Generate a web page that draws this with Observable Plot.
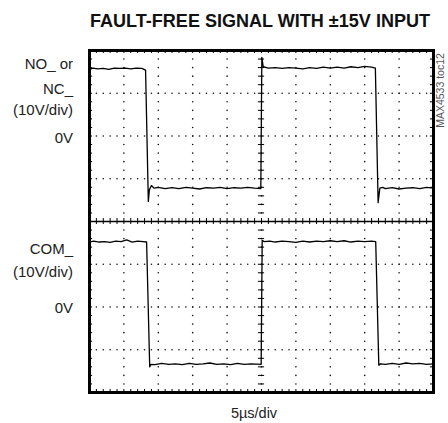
<!DOCTYPE html>
<html><head><meta charset="utf-8">
<script src="https://cdn.jsdelivr.net/npm/d3@7"></script>
<script src="https://cdn.jsdelivr.net/npm/@observablehq/plot@0.6"></script>
<style>
body{margin:0;background:#fff}
#chart{width:448px;height:423px}
</style>
</head><body><div id="chart"></div>
<script>
// Oscilloscope settings: 5 µs/div (10 div), 10 V/div (8 div)
const timeDomain = [0, 50];      // µs
const voltDomain = [-40, 40];    // V on screen
const title = "FAULT-FREE SIGNAL WITH \u00B115V INPUT";
const xLabel = "5\u00B5s/div";
const tocLabel = "MAX4533 toc12";

// channel zero levels (screen volts)
const topZero = 20;
const comZero = -20;

// channel labels: [text, screen volts]
const topLabels = [["NO_ or", 36.9], ["NC_", 30.9], ["(10V/div)", 26.0], ["0V", 19.6]];
const comLabels = [["COM_", -6.5], ["(10V/div)", -11.8], ["0V", -20.2]];

// NO_/NC_ trace: [time µs, volts relative to channel 0V]
const topTrace = [
  [0,15.6],[0.5,15.9],[1.2,15.7],[2,15.8],[2.8,15.6],[3.6,15.9],[4.4,15.8],[5.2,15.9],[6,15.7],[6.8,15.9],[7.6,15.8],
  [8.15,15.4],[8.55,-15.3],[8.7,-12.6],[9.0,-11.6],[9.4,-12.2],
  [10,-12.0],[11,-12.3],[12,-12.1],[13,-12.3],[14,-12.0],[15,-12.2],[16,-12.4],[17,-12.1],[18,-12.2],[19,-12.0],
  [20,-12.3],[21,-12.1],[22,-12.2],[23,-12.0],[24,-12.2],[24.9,-12.3],
  [25.05,18.4],[25.25,16.2],
  [26,15.9],[27,16.0],[28,15.8],[29,16.0],[30,15.9],[31,15.7],[32,16.0],[33,15.8],[34,16.1],[35,15.9],
  [36,16.1],[37,15.9],[38,16.2],[39,16.0],[40,16.3],[41,16.1],[41.55,15.9],
  [41.95,-15.6],[42.2,-12.2],[42.6,-12.0],
  [43,-12.3],[44,-12.1],[45,-12.4],[46,-12.2],[47,-12.1],[48,-12.3],[49,-12.0],[50,-12.2]
];

// COM_ trace: [time µs, volts relative to channel 0V]
const comTrace = [
  [0,15.2],[0.6,15.4],[1.4,15.2],[2.2,15.3],[3,15.1],[3.8,15.4],[4.6,15.3],[5.4,15.7],[6.2,15.2],[7,15.4],[7.8,15.3],
  [8.3,15.2],[8.75,-14.0],[8.95,-13.4],
  [9.5,-13.5],[10.5,-13.2],[11.5,-13.4],[12.5,-13.3],[13.5,-13.5],[14.5,-13.2],[15.5,-13.4],[16.5,-13.3],[17.5,-13.1],
  [18.5,-13.4],[19.5,-13.3],[20.5,-13.5],[21.5,-13.2],[22.5,-13.4],[23.5,-13.3],[24.95,-13.4],
  [25.1,15.6],[25.4,15.3],
  [26.2,15.4],[27,15.2],[28,15.4],[29,15.3],[30,15.1],[31,15.4],[32,15.2],[33,15.4],[34,15.3],[35,15.5],
  [36,15.3],[37,15.5],[38,15.2],[39,15.4],[40,15.3],[41,15.4],[41.6,15.3],
  [42.05,-13.6],[42.3,-13.3],
  [43,-13.4],[44,-13.2],[45,-13.4],[46,-13.1],[47,-13.3],[48,-13.2],[49,-13.4],[50,-13.3]
];

// ---- graticule (structure, not data) ----
const divX = 5, divY = 10, minorX = 1, minorY = 2;
const gridYs = d3.range(-30, 31, divY).filter(v => v !== 0);
const gridXs = d3.range(5, 50, divX);
const minorTs = d3.range(minorX, 50, minorX);
const minorVs = d3.range(-40 + minorY, 40, minorY);
const hDots = gridYs.flatMap(v => minorTs.map(t => ({t, v})));
const vDots = gridXs.flatMap(t => minorVs.map(v => ({t, v})));

const font = "'Liberation Sans', Arial, sans-serif";

const plot = Plot.plot({
  width: 448, height: 423,
  marginLeft: 89, marginRight: 15, marginTop: 50, marginBottom: 31,
  x: {domain: timeDomain, axis: null},
  y: {domain: voltDomain, axis: null},
  style: {fontFamily: font, background: "#fff", overflow: "visible"},
  marks: [
    // dotted graticule
    Plot.dot(hDots, {x: "t", y: "v", r: 0.8, fill: "#111", stroke: null}),
    Plot.dot(vDots, {x: "t", y: "v", r: 0.8, fill: "#111", stroke: null}),
    // centre horizontal axis with minor ticks
    Plot.ruleY([0], {stroke: "#000", strokeWidth: 1.5}),
    Plot.ruleX(minorTs, {x: d => d, y1: -0.7, y2: 0.7, stroke: "#000", strokeWidth: 1}),
    // centre vertical axis crosses
    Plot.ruleY(minorVs, {y: d => d, x1: 25 - 0.45, x2: 25 + 0.45, stroke: "#000", strokeWidth: 1}),
    // edge ticks
    Plot.ruleX(minorTs, {x: d => d, y1: -40, y2: -39.3, stroke: "#000", strokeWidth: 1}),
    Plot.ruleX(minorTs, {x: d => d, y1: 40, y2: 39.3, stroke: "#000", strokeWidth: 1}),
    Plot.ruleY(minorVs, {y: d => d, x1: 0, x2: 0.45, stroke: "#000", strokeWidth: 1}),
    Plot.ruleY(minorVs, {y: d => d, x1: 50, x2: 49.55, stroke: "#000", strokeWidth: 1}),
    // traces
    Plot.line(topTrace, {x: d => d[0], y: d => topZero + d[1], stroke: "#000", strokeWidth: 1.3, strokeLinejoin: "round"}),
    Plot.line(comTrace, {x: d => d[0], y: d => comZero + d[1], stroke: "#000", strokeWidth: 1.3, strokeLinejoin: "round"}),
    // frame
    Plot.frame({stroke: "#000", strokeWidth: 3}),
    // channel labels
    Plot.text(topLabels.concat(comLabels), {x: 0, y: d => d[1], text: d => d[0], dx: -16.5,
      textAnchor: "end", lineAnchor: "middle", fontSize: 15, fill: "#222", fontFamily: font}),
    // title
    Plot.text([title], {frameAnchor: "top", text: d => d, dx: -1.5, dy: -30, lineAnchor: "middle",
      fontSize: 19, fontWeight: "bold", fontFamily: font, fill: "#111", className: "chart-title"}),
    // x caption
    Plot.text([xLabel], {frameAnchor: "bottom", text: d => d, dx: -7.5, dy: 21, lineAnchor: "middle",
      fontSize: 14.5, fill: "#222", fontFamily: font}),
    // toc id
    Plot.text([tocLabel], {frameAnchor: "top-right", text: d => d, dx: 7, dy: 40, rotate: -90,
      textAnchor: "middle", lineAnchor: "middle", fontSize: 10.5, fill: "#555", fontFamily: font})
  ]
});
// condense the bold title to the reference width (still real text)
plot.querySelectorAll(".chart-title text").forEach(t => {
  t.setAttribute("textLength", "340");
  t.setAttribute("lengthAdjust", "spacingAndGlyphs");
});
document.getElementById("chart").appendChild(plot);
</script>
</body></html>
